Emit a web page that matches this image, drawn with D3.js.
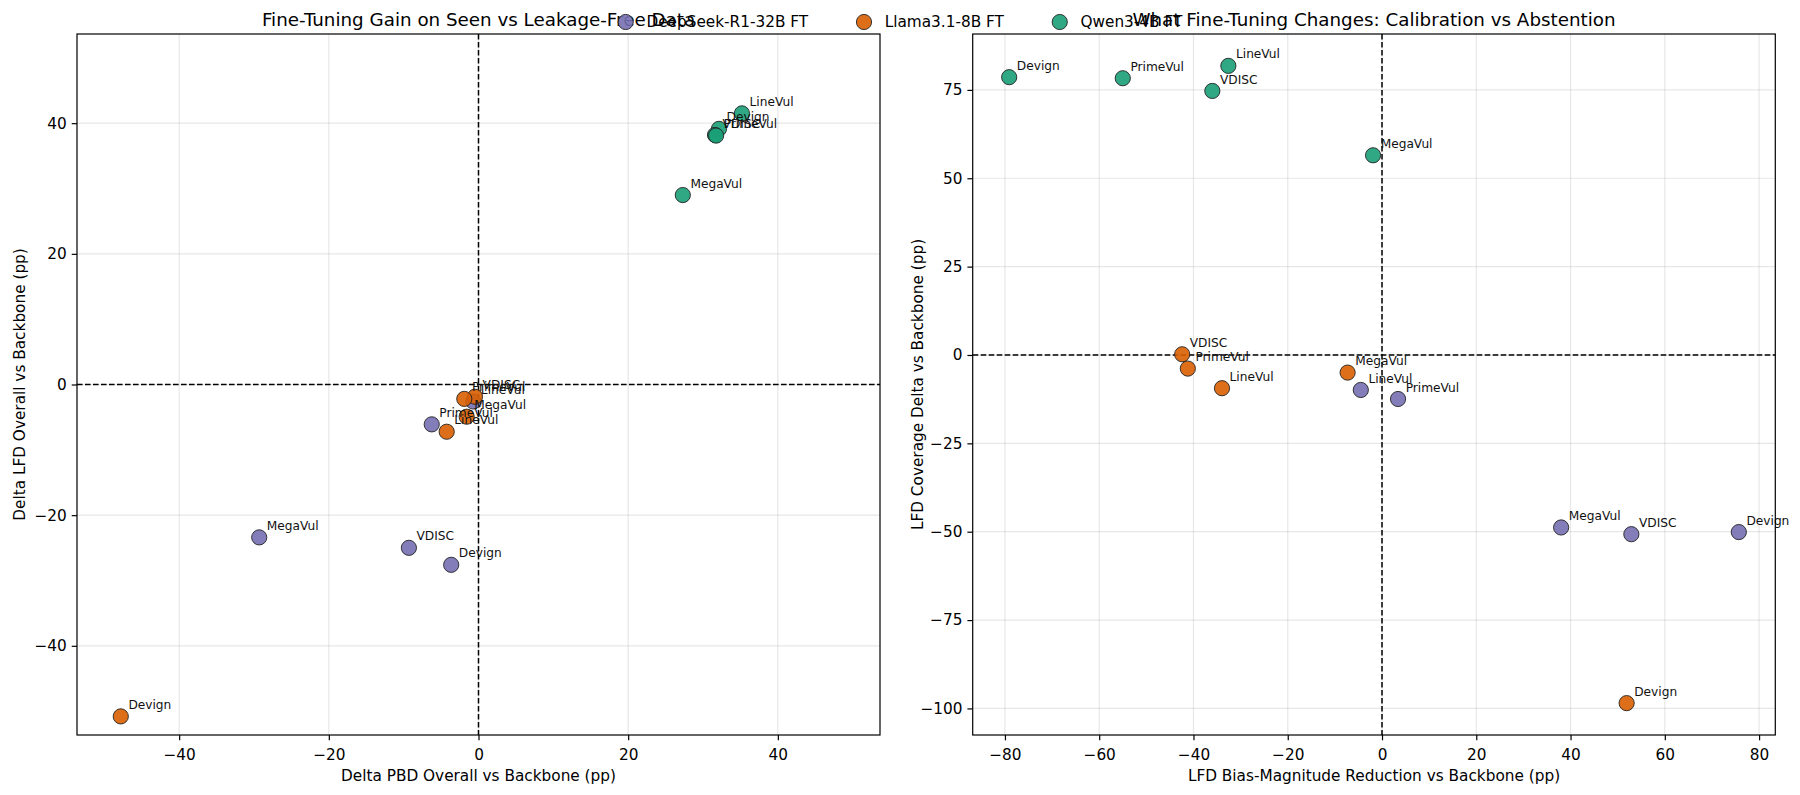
<!DOCTYPE html>
<html><head><meta charset="utf-8">
<script src="https://cdn.jsdelivr.net/npm/d3@7/dist/d3.min.js"></script>
<style>
body{margin:0;background:#fff;}
svg{font-family:"DejaVu Sans",sans-serif;}
</style></head>
<body><svg id="c" width="1800" height="795"></svg>
<script>
// ---------- data ----------
const models = ["DeepSeek-R1-32B FT", "Llama3.1-8B FT", "Qwen3-4B FT"];
const colors = ["#7570b3", "#d95f02", "#1b9e77"];
const datasets = ["Devign", "VDISC", "MegaVul", "PrimeVul", "LineVul"];

// Panel 1: Delta PBD overall (x) vs Delta LFD overall (y), order = datasets
const p1_deepseek_x = [-3.65, -9.3, -29.3, -6.25, -0.7];
const p1_deepseek_y = [-27.6, -25.0, -23.4, -6.1, -2.6];
const p1_llama_x    = [-47.8, -0.47, -1.58, -1.9, -4.25];
const p1_llama_y    = [-50.8, -1.87, -4.93, -2.2, -7.23];
const p1_qwen_x     = [32.13, 31.6, 27.3, 31.75, 35.2];
const p1_qwen_y     = [39.13, 38.2, 29.0, 38.1, 41.5];

// Panel 2: LFD bias-magnitude reduction (x) vs LFD coverage delta (y)
const p2_deepseek_x = [75.7, 52.9, 38.0, 3.4, -4.5];
const p2_deepseek_y = [-50.1, -50.7, -48.8, -12.45, -9.9];
const p2_llama_x    = [51.9, -42.4, -7.3, -41.2, -33.95];
const p2_llama_y    = [-98.5, 0.2, -4.98, -3.85, -9.4];
const p2_qwen_x     = [-79.1, -36.0, -1.9, -55.0, -32.6];
const p2_qwen_y     = [78.6, 74.7, 56.5, 78.3, 81.8];

const p1_ticks = [-40, -20, 0, 20, 40];
const p2_xticks = [-80, -60, -40, -20, 0, 20, 40, 60, 80];
const p2_yticks = [-100, -75, -50, -25, 0, 25, 50, 75];

// ---------- drawing ----------
const svg = d3.select("#c");
const FS = 15.3;

function series(xs, ys){ return xs.map((x,i)=>({x, y:ys[i], label:datasets[i]})); }

function panel(cfg){
  const g = svg.append("g");
  const x = d3.scaleLinear().domain(cfg.xdom).range([cfg.left, cfg.right]);
  const y = d3.scaleLinear().domain(cfg.ydom).range([cfg.bottom, cfg.top]);
  // grid
  g.selectAll(".gx").data(cfg.xticks).join("line")
    .attr("x1", d=>x(d)).attr("x2", d=>x(d)).attr("y1", cfg.top).attr("y2", cfg.bottom)
    .attr("stroke", "#b0b0b0").attr("stroke-opacity", 0.3).attr("stroke-width", 1.2);
  g.selectAll(".gy").data(cfg.yticks).join("line")
    .attr("y1", d=>y(d)).attr("y2", d=>y(d)).attr("x1", cfg.left).attr("x2", cfg.right)
    .attr("stroke", "#b0b0b0").attr("stroke-opacity", 0.3).attr("stroke-width", 1.2);
  // zero lines
  g.append("line").attr("x1", cfg.left).attr("x2", cfg.right).attr("y1", y(0)).attr("y2", y(0))
    .attr("stroke", "#000").attr("stroke-width", 1.5).attr("stroke-dasharray", "5.6,2.4");
  g.append("line").attr("x1", x(0)).attr("x2", x(0)).attr("y1", cfg.top).attr("y2", cfg.bottom)
    .attr("stroke", "#000").attr("stroke-width", 1.5).attr("stroke-dasharray", "5.6,2.4");
  // points (all series), then labels on top
  const all = cfg.series.map(s => series(s[0], s[1]));
  all.forEach((pts, k) => {
    g.selectAll(null).data(pts).join("circle")
      .attr("cx", d=>x(d.x)).attr("cy", d=>y(d.y)).attr("r", 7.6)
      .attr("fill", colors[k]).attr("fill-opacity", 0.9)
      .attr("stroke", "#222").attr("stroke-width", 0.9);
  });
  all.forEach(pts => {
    g.selectAll(null).data(pts).join("text")
      .attr("x", d=>x(d.x)+7.6).attr("y", d=>y(d.y)-7.4)
      .attr("font-size", 12.2).attr("fill", "#111").text(d=>d.label);
  });
  // axes
  const fmt = d=>String(d).replace("-", "\u2212");
  const ax = g.append("g").attr("transform", `translate(0,${cfg.bottom})`)
    .call(d3.axisBottom(x).tickValues(cfg.xticks).tickSize(5.3).tickPadding(5).tickFormat(fmt));
  const ay = g.append("g").attr("transform", `translate(${cfg.left},0)`)
    .call(d3.axisLeft(y).tickValues(cfg.yticks).tickSize(5.3).tickPadding(5).tickFormat(fmt));
  [ax, ay].forEach(a => {
    a.select(".domain").remove();
    a.selectAll("text").attr("font-size", FS).attr("fill", "#000").attr("font-family", "DejaVu Sans");
    a.selectAll("line").attr("stroke", "#000").attr("stroke-width", 1.2);
  });
  ax.selectAll("text").attr("dy", "0.95em");
  // frame
  g.append("rect").attr("x", cfg.left).attr("y", cfg.top)
    .attr("width", cfg.right-cfg.left).attr("height", cfg.bottom-cfg.top)
    .attr("fill", "none").attr("stroke", "#000").attr("stroke-width", 1.2);
  // labels
  g.append("text").attr("x", (cfg.left+cfg.right)/2).attr("y", 781).attr("text-anchor", "middle")
    .attr("font-size", FS).text(cfg.xlabel);
  g.append("text").attr("transform", `translate(${cfg.ylx},${(cfg.top+cfg.bottom)/2}) rotate(-90)`)
    .attr("text-anchor", "middle").attr("dy", "0.35em").attr("font-size", FS).text(cfg.ylabel);
  g.append("text").attr("x", (cfg.left+cfg.right)/2).attr("y", 26).attr("text-anchor", "middle")
    .attr("font-size", 18.3).text(cfg.title);
}

const LIM = 53.65;
function pad(arr){ const e = d3.extent(arr); const m = (e[1]-e[0])*0.05; return [e[0]-m, e[1]+m]; }

panel({
  left: 77, right: 880, top: 34, bottom: 735,
  xdom: [-LIM, LIM], ydom: [-LIM, LIM],
  xticks: p1_ticks, yticks: p1_ticks,
  series: [[p1_deepseek_x, p1_deepseek_y], [p1_llama_x, p1_llama_y], [p1_qwen_x, p1_qwen_y]],
  title: "Fine-Tuning Gain on Seen vs Leakage-Free Data",
  xlabel: "Delta PBD Overall vs Backbone (pp)",
  ylabel: "Delta LFD Overall vs Backbone (pp)", ylx: 20
});
panel({
  left: 972.7, right: 1775.3, top: 34, bottom: 735,
  xdom: pad([...p2_deepseek_x, ...p2_llama_x, ...p2_qwen_x]),
  ydom: pad([...p2_deepseek_y, ...p2_llama_y, ...p2_qwen_y]),
  xticks: p2_xticks, yticks: p2_yticks,
  series: [[p2_deepseek_x, p2_deepseek_y], [p2_llama_x, p2_llama_y], [p2_qwen_x, p2_qwen_y]],
  title: "What Fine-Tuning Changes: Calibration vs Abstention",
  xlabel: "LFD Bias-Magnitude Reduction vs Backbone (pp)",
  ylabel: "LFD Coverage Delta vs Backbone (pp)", ylx: 918
});

// legend (figure level, top center, 3 columns, no frame)
const lg = svg.append("g");
const items = models.map((m,i)=>{
  const t = lg.append("text").attr("font-size", FS).attr("y", 27.3).text(m);
  return {t, w: t.node().getComputedTextLength(), i};
});
const total = items.reduce((s,d)=>s+16+12.7+d.w, 0) + 47.8*(items.length-1);
let cx = 900 - total/2;
items.forEach(d=>{
  lg.append("circle").attr("cx", cx+8).attr("cy", 22).attr("r", 7.6)
    .attr("fill", colors[d.i]).attr("fill-opacity", 0.9).attr("stroke", "#222").attr("stroke-width", 0.9);
  d.t.attr("x", cx+16+12.7);
  cx += 16 + 12.7 + d.w + 47.8;
});
</script></body></html>
